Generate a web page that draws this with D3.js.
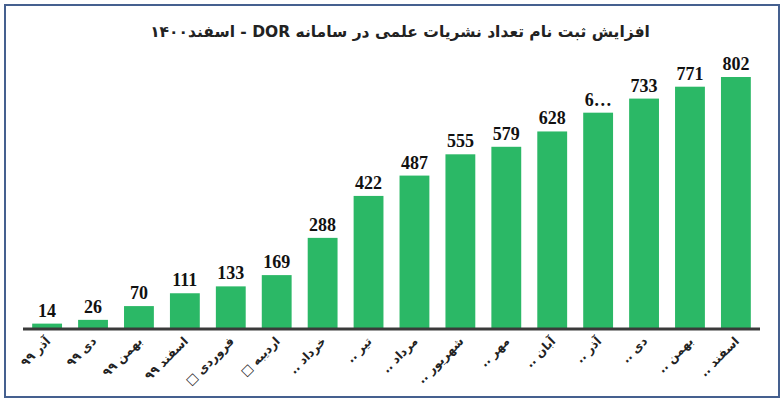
<!DOCTYPE html>
<html>
<head>
<meta charset="utf-8">
<script src="https://cdn.jsdelivr.net/npm/d3@7"></script>
<style>
  body { margin: 0; background: #fff; }
</style>
</head>
<body>
<svg></svg>
<script>
// chart data
const months = ["آذر ۹۹", "دی ۹۹", "بهمن ۹۹", "اسفند ۹۹", "فروردی □", "اردیبه □", "خرداد ..", "تیر ..",
                "مرداد ..", "شهریور ..", "مهر ..", "آبان ..", "آذر ..", "دی ..", "بهمن ..", "اسفند .."];
const counts = [14, 26, 70, 111, 133, 169, 288, 422, 487, 555, 579, 628, 688, 733, 771, 802];
const countLabels = ["14", "26", "70", "111", "133", "169", "288", "422", "487", "555", "579", "628", "6…", "733", "771", "802"];
const title = "افزایش ثبت نام تعداد نشریات علمی در سامانه  DOR - اسفند۱۴۰۰";

const width = 784;
const height = 403;

const svg = d3.select("svg")
    .attr("width", width)
    .attr("height", height);

// frame
svg.append("rect")
    .attr("x", 5).attr("y", 5)
    .attr("width", 774).attr("height", 392)
    .attr("fill", "#fff")
    .attr("stroke", "#45608f")
    .attr("stroke-width", 2);

// title
svg.append("text")
    .attr("x", 400)
    .attr("y", 37)
    .attr("text-anchor", "middle")
    .attr("direction", "rtl")
    .attr("font-family", "DejaVu Sans")
    .attr("font-weight", "bold")
    .attr("font-size", 15.5)
    .attr("fill", "#222")
    .text(title);

// scales
const x = d3.scaleBand()
    .domain(months)
    .range([23, 760])
    .paddingInner(0.35)
    .paddingOuter(0.2);

const y = d3.scaleLinear()
    .domain([0, 802])
    .range([328, 77]);

// bars
svg.selectAll("rect.bar")
    .data(counts)
    .enter().append("rect")
    .attr("class", "bar")
    .attr("x", (d, i) => x(months[i]))
    .attr("y", d => y(d))
    .attr("width", x.bandwidth())
    .attr("height", d => y(0) - y(d))
    .attr("fill", "#2bb866");

// value labels
svg.selectAll("text.val")
    .data(counts)
    .enter().append("text")
    .attr("class", "val")
    .attr("x", (d, i) => x(months[i]) + x.bandwidth() / 2)
    .attr("y", d => y(d) - 7)
    .attr("text-anchor", "middle")
    .attr("font-family", "Liberation Serif")
    .attr("font-weight", "bold")
    .attr("font-size", 18)
    .attr("fill", "#111")
    .text((d, i) => countLabels[i]);

// x axis line
svg.append("line")
    .attr("x1", 23).attr("x2", 760)
    .attr("y1", y(0) + 1).attr("y2", y(0) + 1)
    .attr("stroke", "#3a3a3a")
    .attr("stroke-width", 3);

// x labels, rotated
svg.selectAll("text.month")
    .data(months)
    .enter().append("text")
    .attr("class", "month")
    .attr("transform", d => `translate(${x(d) + x.bandwidth() / 2 + 4},${y(0) + 14}) rotate(-45)`)
    .attr("direction", "rtl")
    .attr("text-anchor", "start")
    .attr("font-family", "DejaVu Sans")
    .attr("font-weight", "bold")
    .attr("font-size", 12)
    .attr("fill", "#222")
    .text(d => d);
</script>
</body>
</html>
